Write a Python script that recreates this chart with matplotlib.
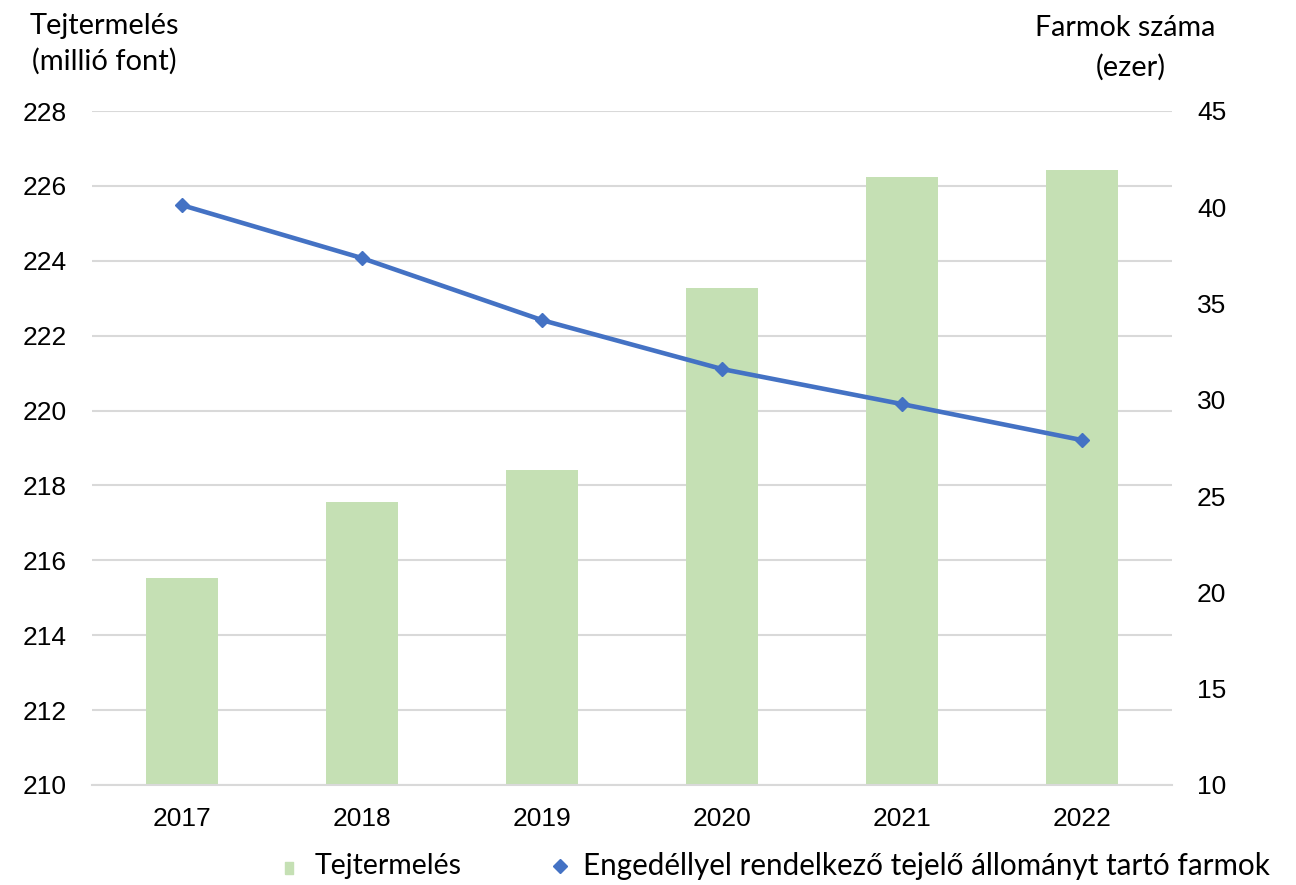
import matplotlib
matplotlib.use("Agg")
import matplotlib.pyplot as plt
from matplotlib.lines import Line2D
import numpy as np

years = ["2017", "2018", "2019", "2020", "2021", "2022"]
milk = [215.53, 217.56, 218.41, 223.27, 226.24, 226.43]
farms = [40.11, 37.36, 34.14, 31.6, 29.78, 27.91]
left_ticks = [210, 212, 214, 216, 218, 220, 222, 224, 226, 228]
right_ticks = [10, 15, 20, 25, 30, 35, 40, 45]

W, H = 1296, 885
BAR_C = "#c5e0b4"
LINE_C = "#4472c4"
calib = ["Lato", "DejaVu Sans"]
plt.rcParams['font.family'] = ["Liberation Sans", "DejaVu Sans"]

fig = plt.figure(figsize=(W / 100, H / 100), dpi=100)
renderer = fig.canvas.get_renderer()

def fx(px):
    return px / W

def fy(py):
    return 1 - py / H

def fitted_text(s, cx, cy, target_w, ha='center'):
    t = fig.text(0, 0, s, fontsize=20, family=calib, va='center', ha=ha)
    w = t.get_window_extent(renderer).width
    t.set_fontsize(20 * target_w / w)
    t.set_position((fx(cx), fy(cy)))
    return t

ax = fig.add_axes([fx(92), fy(785), (1172 - 92) / W, (785 - 111) / H])
ax2 = ax.twinx()

x = np.arange(len(years))
ax.bar(x, milk, width=0.4, color=BAR_C, zorder=2)
ax.set_ylim(210, 228)
ax.set_xlim(-0.5, 5.5)
ax.set_yticks(left_ticks)
ax.set_xticks(x)
ax.set_xticklabels(years)
ax.grid(axis='y', color="#d9d9d9", linewidth=1.5, zorder=0)
ax.set_axisbelow(True)
for s in ['top', 'right', 'left']:
    ax.spines[s].set_visible(False)
ax.spines['bottom'].set_color("#d9d9d9")
ax.spines['bottom'].set_linewidth(1.5)
ax.tick_params(axis='both', length=0, labelsize=19, colors='black')
ax.tick_params(axis='x', pad=16)
ax.tick_params(axis='y', pad=18)

ax2.plot(x, farms, color=LINE_C, linewidth=3.3, marker='D', markersize=7, zorder=3)
ax2.set_ylim(10, 45)
ax2.set_yticks(right_ticks)
for s in ['top', 'right', 'left', 'bottom']:
    ax2.spines[s].set_visible(False)
ax2.tick_params(axis='y', length=0, labelsize=19, colors='black', pad=18)

# axis titles
fitted_text("Tejtermelés", 104.5, 26, 150)
fitted_text("(millió font)", 104, 61, 145)
fitted_text("Farmok száma", 1125, 28, 180)
fitted_text("(ezer)", 1131, 67, 70)

# legend (drawn manually to match positions)
rect = [(-0.33, -0.5), (0.33, -0.5), (0.33, 0.5), (-0.33, 0.5), (-0.33, -0.5)]
fig.add_artist(Line2D([fx(289)], [fy(868)], marker=rect, markersize=8.6,
                      color=BAR_C, linestyle='none', transform=fig.transFigure))
fig.add_artist(Line2D([fx(560)], [fy(866)], marker='D', markersize=7.5,
                      color=LINE_C, linestyle='none', transform=fig.transFigure))
fitted_text("Tejtermelés", 315, 866, 148, ha='left')
fitted_text("Engedéllyel rendelkező tejelő állományt tartó farmok", 583, 866, 688, ha='left')

fig.savefig("out.png", dpi=100)
